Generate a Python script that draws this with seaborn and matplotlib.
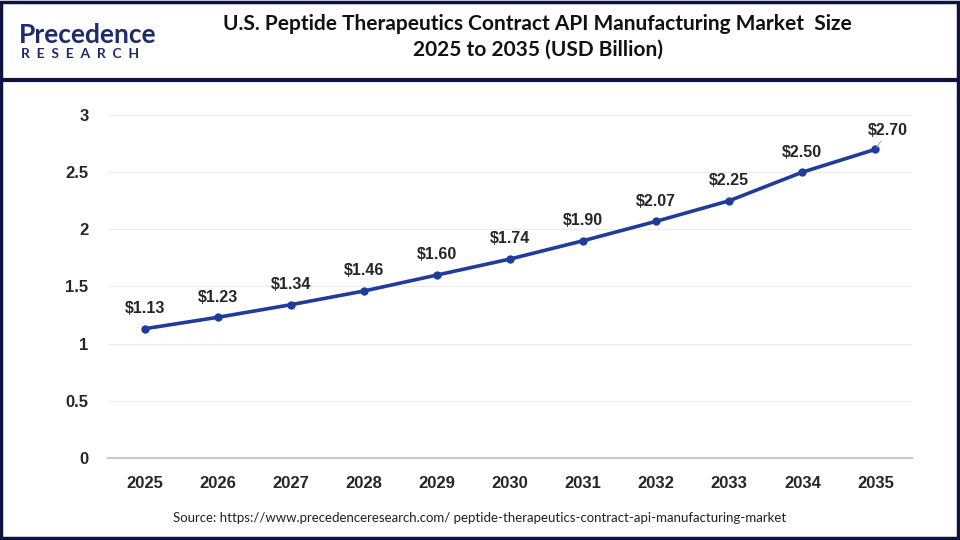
import numpy as np
import pandas as pd
import seaborn as sns
import matplotlib.pyplot as plt
from matplotlib.lines import Line2D
from matplotlib.patches import Rectangle

years = [2025, 2026, 2027, 2028, 2029, 2030, 2031, 2032, 2033, 2034, 2035]
market_size = [1.13, 1.23, 1.34, 1.46, 1.60, 1.74, 1.90, 2.07, 2.25, 2.50, 2.70]
y_ticks = [0, 0.5, 1, 1.5, 2, 2.5, 3]
y_tick_labels = ["0", "0.5", "1", "1.5", "2", "2.5", "3"]

title = "U.S. Peptide Therapeutics Contract API Manufacturing Market  Size\n2025 to 2035 (USD Billion)"
source = "Source: https://www.precedenceresearch.com/ peptide-therapeutics-contract-api-manufacturing-market"

df = pd.DataFrame({"year": years, "size": market_size})

sns.set_style("white")
plt.rcParams['font.family'] = ['Liberation Sans', 'DejaVu Sans']

navy = "#0d1440"
line_col = "#1f3c9c"

fig = plt.figure(figsize=(9.6, 5.4), dpi=100)
ax = fig.add_axes([0.1125, 0.152, 0.8375, 0.635])

sns.lineplot(data=df, x="year", y="size", ax=ax, color=line_col, linewidth=2.6,
             marker="o", markersize=6, markeredgewidth=0)

ax.set_xlim(2024.5, 2035.5)
ax.set_ylim(0, 3)
ax.set_xticks(years)
ax.set_xticklabels([str(y) for y in years], fontsize=12, fontweight="bold")
ax.set_yticks(y_ticks)
ax.set_yticklabels(y_tick_labels, fontsize=12, fontweight="bold")
ax.tick_params(axis="y", pad=14, length=0)
ax.tick_params(axis="x", pad=13, length=0)
ax.set_xlabel("")
ax.set_ylabel("")
ax.grid(axis="y", color="#ececec", linewidth=0.8)
ax.set_axisbelow(True)
for s in ["top", "right", "left"]:
    ax.spines[s].set_visible(False)
ax.spines["bottom"].set_color("#c8c8c8")
ax.spines["bottom"].set_linewidth(1.5)

for i, (x, y) in enumerate(zip(years, market_size)):
    if i == len(years) - 1:
        ax.annotate(f"${y:.2f}", xy=(x, y), xytext=(x + 0.17, y + 0.1),
                    ha="center", va="bottom", fontsize=11.5, fontweight="bold",
                    arrowprops=dict(arrowstyle="-", color="#b0b0b0", lw=0.8,
                                    shrinkA=0, shrinkB=2))
    else:
        ax.text(x, y + 0.11, f"${y:.2f}", ha="center", va="bottom",
                fontsize=11.5, fontweight="bold")

# title
fig.text(0.56, 0.975, title, ha="center", va="top", fontsize=15, fontweight="bold",
         family=["Lato", "DejaVu Sans"], linespacing=1.4, color="#111111")

# logo
fig.text(0.02, 0.935, "Precedence", ha="left", va="center", fontsize=19,
         color="#1c2a6e", family=["Lato", "DejaVu Sans"], fontweight="bold")
fig.text(0.022, 0.9, "R  E  S  E  A  R  C  H", ha="left", va="center", fontsize=10,
         color="#1c2a6e", family=["Lato", "DejaVu Sans"], fontweight="bold")

# source
fig.text(0.5, 0.04, source, ha="center", va="center", fontsize=9.5,
         family=["Lato", "DejaVu Sans"], color="#222222")

# frame and header line
fig.add_artist(Rectangle((0.001, 0.004), 0.997, 0.993, transform=fig.transFigure,
                         fill=False, edgecolor=navy, linewidth=2.5))
fig.add_artist(Line2D([0, 1], [0.852, 0.852], transform=fig.transFigure,
                      color=navy, linewidth=3))

fig.savefig("out.png", dpi=100)
